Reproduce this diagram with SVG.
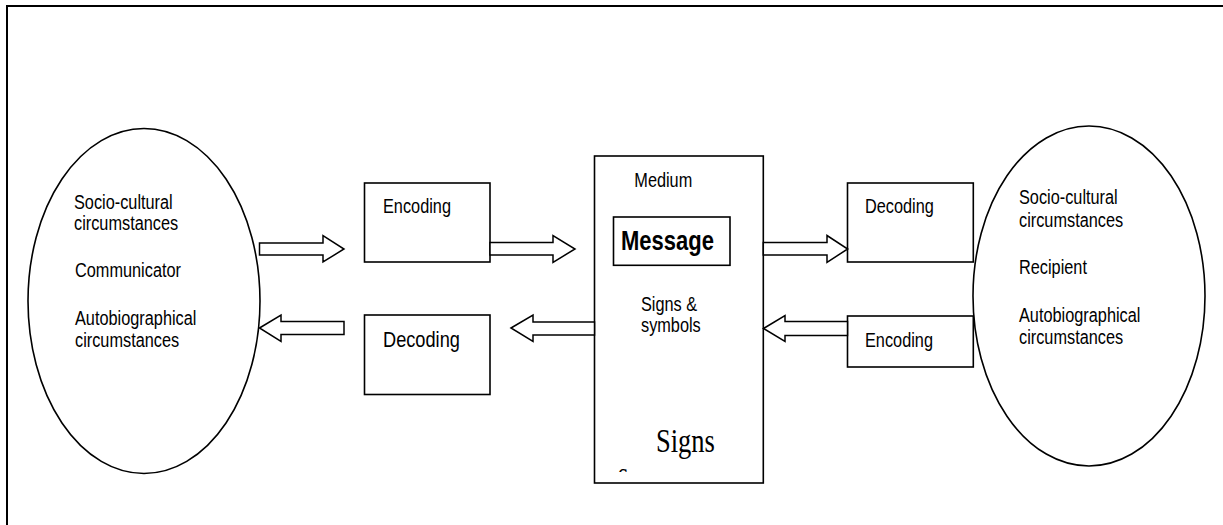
<svg xmlns="http://www.w3.org/2000/svg" width="1223" height="525" viewBox="0 0 1223 525">
<style>
.shape{fill:#fff;stroke:#000;stroke-width:1.6}
.arrow{fill:#fff;stroke:#000;stroke-width:1.5;stroke-linejoin:miter}
.t{font-family:"Liberation Sans",Arial,sans-serif;font-size:16.3px;fill:#000}
.big{font-size:18.2px}
.bold{font-family:"Liberation Sans",Arial,sans-serif;font-size:22px;font-weight:bold;fill:#000}
.serif{font-family:"Liberation Serif","Times New Roman",serif;font-size:26.5px;fill:#000}
</style>
<defs>
<clipPath id="mclip"><rect x="596" y="157" width="166" height="315"/></clipPath>
</defs>
<rect width="1223" height="525" fill="#fff"/>
<rect id="frame" x="7" y="6" width="1240" height="540" fill="none" stroke="#000" stroke-width="2"/>

<g id="communicator">
<ellipse class="shape" cx="144" cy="301" rx="116" ry="172.5"/>
<text class="t" transform="translate(74,209.3) scale(1,1.2)">Socio-cultural</text>
<text class="t" transform="translate(74,230) scale(1,1.2)">circumstances</text>
<text class="t" transform="translate(75,277.3) scale(1,1.2)">Communicator</text>
<text class="t" transform="translate(75,325) scale(1,1.2)">Autobiographical</text>
<text class="t" transform="translate(75,346.7) scale(1,1.2)">circumstances</text>
</g>

<g id="recipient">
<ellipse class="shape" cx="1089" cy="296" rx="116" ry="170"/>
<text class="t" transform="translate(1019,204.3) scale(1,1.2)">Socio-cultural</text>
<text class="t" transform="translate(1019,226.7) scale(1,1.2)">circumstances</text>
<text class="t" transform="translate(1019,274.3) scale(1,1.2)">Recipient</text>
<text class="t" transform="translate(1019,321.7) scale(1,1.2)">Autobiographical</text>
<text class="t" transform="translate(1019,344) scale(1,1.2)">circumstances</text>
</g>

<g id="encoding-left">
<rect class="shape" x="364.5" y="183" width="125.5" height="79"/>
<text class="t" transform="translate(383,213.3) scale(1,1.2)">Encoding</text>
</g>

<g id="decoding-left">
<rect class="shape" x="364.5" y="315" width="125.5" height="79.5"/>
<text class="t big" transform="translate(383,346.7) scale(1,1.2)">Decoding</text>
</g>

<g id="medium">
<rect class="shape" x="594.5" y="156" width="168.8" height="327"/>
<text class="t" transform="translate(634.3,186.7) scale(1,1.2)">Medium</text>
<text class="t" transform="translate(641,311) scale(1,1.2)">Signs &amp;</text>
<text class="t" transform="translate(641,331.7) scale(1,1.2)">symbols</text>
<text class="serif" transform="translate(656,451.7) scale(1,1.3)">Signs</text>
<g clip-path="url(#mclip)">
<text class="serif" transform="translate(618,485) scale(1,1.3)">s</text>
</g>
</g>

<g id="message">
<rect class="shape" x="613.5" y="217" width="116.5" height="48.3"/>
<text class="bold" transform="translate(621,250) scale(1,1.22)">Message</text>
</g>

<g id="decoding-right">
<rect class="shape" x="847.5" y="183" width="125.8" height="79"/>
<text class="t" transform="translate(865,213.3) scale(1,1.2)">Decoding</text>
</g>

<g id="encoding-right">
<rect class="shape" x="847.5" y="316" width="125.8" height="51"/>
<text class="t" transform="translate(865,346.7) scale(1,1.2)">Encoding</text>
</g>

<g id="connectors">
<polygon class="arrow" points="259.5,243 323,243 323,235.5 344,249 323,262 323,255 259.5,255"/>
<polygon class="arrow" points="490,242.5 553,242.5 553,235.5 575,249 553,262.3 553,255 490,255"/>
<polygon class="arrow" points="763.3,242.5 827,242.5 827,235.5 847.7,249 827,262.3 827,255 763.3,255"/>
<polygon class="arrow" points="259.5,328 281,315 281,321.5 344,321.5 344,334.5 281,334.5 281,341.5"/>
<polygon class="arrow" points="511,328 533,315 533,322 594.5,322 594.5,335 533,335 533,341.5"/>
<polygon class="arrow" points="763.5,328.5 785,315.5 785,321.5 847.5,321.5 847.5,335.5 785,335.5 785,341.5"/>
</g>
</svg>
